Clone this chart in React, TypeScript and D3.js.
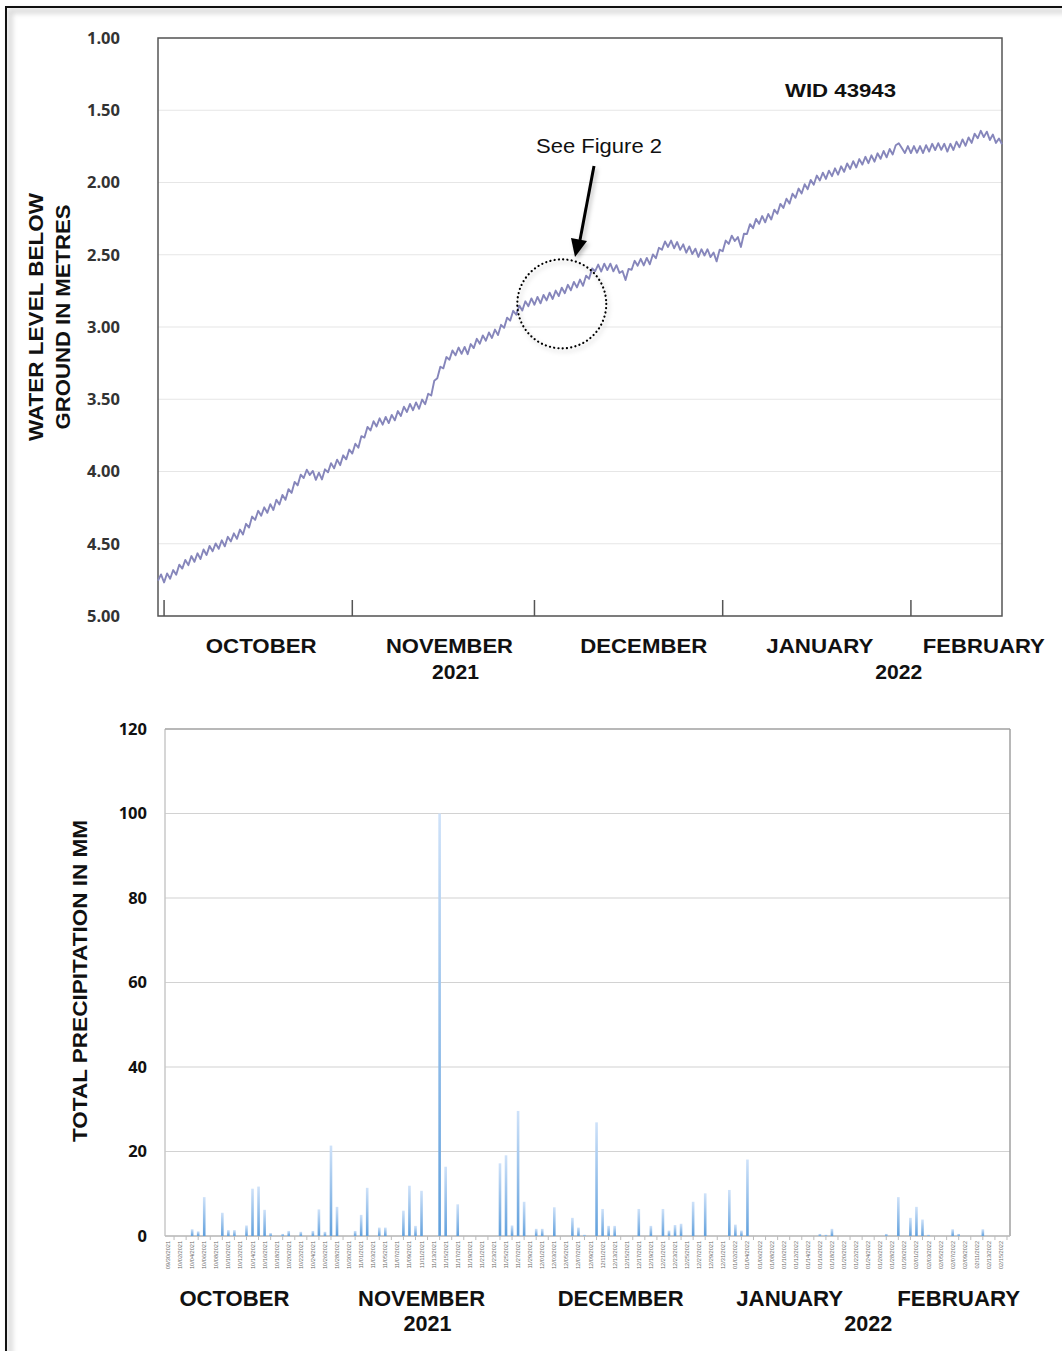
import React from 'react';
import * as d3 from 'd3';

// ---------- DATA ----------
const waterStart = '2021-09-30T00:00:00';
const waterStepHours = 12;
// water level below ground (m), every 12 hours from 30 Sep 2021
const waterLevel = [
  4.755, 4.712, 4.768, 4.705, 4.742, 4.682, 4.715, 4.645, 4.672, 4.612,
  4.648, 4.585, 4.625, 4.566, 4.606, 4.540, 4.578, 4.515, 4.552, 4.498,
  4.535, 4.476, 4.518, 4.452, 4.484, 4.428, 4.466, 4.402, 4.436, 4.362,
  4.388, 4.312, 4.335, 4.272, 4.306, 4.248, 4.286, 4.226, 4.266, 4.196,
  4.228, 4.162, 4.196, 4.122, 4.148, 4.072, 4.096, 4.022, 4.045, 3.988,
  4.024, 3.996, 4.058, 4.008, 4.055, 3.985, 4.006, 3.942, 3.978, 3.918,
  3.956, 3.888, 3.916, 3.848, 3.876, 3.808, 3.836, 3.755, 3.765, 3.692,
  3.716, 3.652, 3.688, 3.632, 3.676, 3.622, 3.665, 3.608, 3.646, 3.582,
  3.616, 3.552, 3.588, 3.532, 3.576, 3.522, 3.566, 3.502, 3.535, 3.462,
  3.474, 3.372, 3.355, 3.275, 3.286, 3.208, 3.226, 3.162, 3.196, 3.142,
  3.186, 3.138, 3.188, 3.118, 3.146, 3.082, 3.116, 3.058, 3.095, 3.038,
  3.076, 3.018, 3.056, 2.985, 3.006, 2.935, 2.956, 2.888, 2.915, 2.852,
  2.886, 2.822, 2.856, 2.802, 2.846, 2.792, 2.836, 2.778, 2.816, 2.762,
  2.806, 2.748, 2.786, 2.728, 2.766, 2.708, 2.746, 2.688, 2.726, 2.672,
  2.715, 2.645, 2.666, 2.595, 2.614, 2.568, 2.616, 2.562, 2.606, 2.562,
  2.615, 2.572, 2.626, 2.612, 2.675, 2.598, 2.604, 2.542, 2.576, 2.528,
  2.574, 2.522, 2.566, 2.498, 2.524, 2.452, 2.465, 2.408, 2.446, 2.402,
  2.455, 2.412, 2.466, 2.428, 2.486, 2.442, 2.495, 2.458, 2.515, 2.462,
  2.505, 2.462, 2.516, 2.485, 2.546, 2.465, 2.476, 2.402, 2.425, 2.368,
  2.405, 2.378, 2.446, 2.355, 2.356, 2.288, 2.316, 2.252, 2.286, 2.232,
  2.276, 2.218, 2.256, 2.188, 2.216, 2.148, 2.176, 2.112, 2.146, 2.078,
  2.106, 2.042, 2.076, 2.012, 2.046, 1.982, 2.016, 1.952, 1.986, 1.932,
  1.975, 1.918, 1.956, 1.902, 1.946, 1.888, 1.926, 1.868, 1.906, 1.852,
  1.896, 1.838, 1.876, 1.822, 1.866, 1.812, 1.856, 1.798, 1.836, 1.782,
  1.826, 1.768, 1.806, 1.742, 1.728, 1.762, 1.796, 1.748, 1.796, 1.748,
  1.794, 1.748, 1.796, 1.742, 1.786, 1.732, 1.776, 1.728, 1.774, 1.732,
  1.786, 1.732, 1.775, 1.718, 1.756, 1.702, 1.746, 1.688, 1.726, 1.662,
  1.694, 1.642, 1.686, 1.648, 1.706, 1.668, 1.726, 1.695, 1.735,
];
const depthTicks = [1.0, 1.5, 2.0, 2.5, 3.0, 3.5, 4.0, 4.5, 5.0];
const monthTickDates = ['2021-10-01', '2021-11-01', '2021-12-01', '2022-01-01', '2022-02-01'];
const monthNames = ['OCTOBER', 'NOVEMBER', 'DECEMBER', 'JANUARY', 'FEBRUARY'];
const topMonthAnchors = ['2021-10-17', '2021-11-17', '2021-12-19', '2022-01-17', '2022-02-13'];
const yearNames = ['2021', '2022'];
const topYearAnchors = ['2021-11-18', '2022-01-30'];
const wellId = 'WID 43943';
const calloutText = 'See Figure 2';
const calloutTime = '2021-12-05T12:00:00';
const calloutDepth = 2.84;

// daily precipitation (mm), 30 Sep 2021 .. 16 Feb 2022
const precipStart = '2021-09-30';
const precip = [
  0, 0, 0, 0, 1.6, 1.1, 9.2, 0, 0, 5.5,
  1.4, 1.4, 0, 2.5, 11.2, 11.7, 6.2, 0.7, 0, 0.5,
  1.2, 0, 1.0, 0, 1.2, 6.3, 1.0, 21.4, 6.9, 0,
  0, 1.2, 5.0, 11.4, 0, 2.0, 2.0, 0, 0, 6.0,
  11.9, 2.4, 10.7, 0, 0, 100, 16.4, 0, 7.5, 0,
  0, 0, 0, 0, 0, 17.2, 19.1, 2.5, 29.6, 8.1,
  0, 1.7, 1.7, 0, 6.8, 0, 0, 4.3, 2.0, 0.3,
  0, 26.9, 6.4, 2.4, 2.4, 0, 0, 0, 6.4, 0,
  2.4, 0, 6.4, 1.3, 2.6, 2.9, 0, 8.1, 0, 10.1,
  0, 0, 0, 10.9, 2.7, 1.3, 18.1, 0, 0, 0,
  0, 0, 0, 0, 0, 0, 0, 0, 0.5, 0.3,
  1.7, 0, 0, 0, 0, 0, 0, 0, 0, 0.5,
  0, 9.2, 0, 4.3, 6.9, 3.9, 0.3, 0, 0, 0,
  1.6, 0.5, 0, 0, 0, 1.6, 0, 0, 0, 0,
];
const precipTicks = [0, 20, 40, 60, 80, 100, 120];
const bottomMonthAnchors = ['2021-10-11', '2021-11-11', '2021-12-14', '2022-01-11', '2022-02-08'];
const bottomYearAnchors = ['2021-11-12', '2022-01-24'];

// ---------- CHART ----------
const W = 1062;
const H = 1351;
const BOLD = 'Liberation Sans, Arial, sans-serif';
const NUM = 'Open Sans, sans-serif';

const parseDay = d3.timeParse('%Y-%m-%d');
const fmtDay = d3.timeFormat('%m/%d/%Y');

export default function App() {
  // top chart
  const tp = { l: 158, r: 1002, t: 38, b: 616 };
  const t0 = new Date(waterStart);
  const waterPts = waterLevel.map((v, i) => ({ date: d3.timeHour.offset(t0, i * waterStepHours), v }));
  const xT = d3.scaleTime()
    .domain([t0, waterPts[waterPts.length - 1].date])
    .range([tp.l, tp.r]);
  const yT = d3.scaleLinear().domain([1, 5]).range([tp.t, tp.b]);
  const line = d3.line<{ date: Date; v: number }>().x(d => xT(d.date)).y(d => yT(d.v));

  // bottom chart
  const bp = { l: 165, r: 1010, t: 729, b: 1236 };
  const pStart = parseDay(precipStart) as Date;
  const days = precip.map((_, i) => d3.timeDay.offset(pStart, i));
  const xB = d3.scaleBand<string>().domain(days.map(d => fmtDay(d))).range([bp.l, bp.r]);
  const yB = d3.scaleLinear().domain([0, 120]).range([bp.b, bp.t]);
  const bandCenter = (d: Date) => (xB(fmtDay(d)) as number) + xB.bandwidth() / 2;
  const barW = 2.6;

  const cx = xT(new Date(calloutTime));
  const cy = yT(calloutDepth);

  const topMonthLen = [111, 127, 127, 107, 122];
  const botMonthLen = [110, 127, 126, 107, 123];

  return (
    <svg width={W} height={H} style={{ position: 'absolute', left: 0, top: 0, background: '#fff' }}>
      <defs>
        <linearGradient id="barGrad" x1="0" y1="0" x2="0" y2="1">
          <stop offset="0" stopColor="#cfe2f9" />
          <stop offset="1" stopColor="#5f9fdc" />
        </linearGradient>
        <filter id="shadow" x="-20%" y="-20%" width="140%" height="140%">
          <feDropShadow dx="2" dy="3" stdDeviation="2" floodColor="#000" floodOpacity="0.25" />
        </filter>
        <filter id="blur1">
          <feGaussianBlur stdDeviation="2.5" />
        </filter>
      </defs>

      {/* outer frame */}
      <rect x={0} y={0} width={W} height={H} fill="#fff" />
      <rect x={10} y={11} width={W + 20} height={H + 20} fill="none" stroke="#d8d8d8" strokeWidth={5} filter="url(#blur1)" />
      <rect x={6} y={7} width={W + 20} height={H + 20} fill="none" stroke="#111" strokeWidth={2} />

      {/* ===== TOP CHART ===== */}
      <g>
        {depthTicks.map(t => (
          <line key={t} x1={tp.l} x2={tp.r} y1={yT(t)} y2={yT(t)} stroke="#e6e6e6" strokeWidth={1.2} />
        ))}
        <rect x={tp.l} y={tp.t} width={tp.r - tp.l} height={tp.b - tp.t} fill="none" stroke="#555" strokeWidth={1.5} />
        {monthTickDates.map(d => {
          const x = xT(parseDay(d) as Date);
          return <line key={d} x1={x} x2={x} y1={tp.b} y2={tp.b - 16} stroke="#555" strokeWidth={1.5} />;
        })}
        {depthTicks.map(t => (
          <text key={t} x={120} y={yT(t)} dy="0.36em" textAnchor="end" fontFamily={NUM} fontWeight={700}
            fontSize={16.5} fill="#333">{t.toFixed(2)}</text>
        ))}
        <path d={line(waterPts) || ''} fill="none" stroke="#8686bb" strokeWidth={1.9} strokeLinejoin="round" />

        <text transform="translate(35,317) rotate(-90)" textAnchor="middle" dominantBaseline="central"
          fontFamily={BOLD} fontWeight={700} fontSize={21} fill="#111" textLength={248} lengthAdjust="spacingAndGlyphs">
          WATER LEVEL BELOW
        </text>
        <text transform="translate(62,317) rotate(-90)" textAnchor="middle" dominantBaseline="central"
          fontFamily={BOLD} fontWeight={700} fontSize={21} fill="#111" textLength={225} lengthAdjust="spacingAndGlyphs">
          GROUND IN METRES
        </text>

        {monthNames.map((m, i) => (
          <text key={m} x={xT(parseDay(topMonthAnchors[i]) as Date)} y={653} textAnchor="middle"
            fontFamily={BOLD} fontWeight={700} fontSize={21} fill="#111"
            textLength={topMonthLen[i]} lengthAdjust="spacingAndGlyphs">{m}</text>
        ))}
        {yearNames.map((yv, i) => (
          <text key={yv} x={xT(parseDay(topYearAnchors[i]) as Date)} y={679} textAnchor="middle"
            fontFamily={BOLD} fontWeight={700} fontSize={21} fill="#111"
            textLength={47} lengthAdjust="spacingAndGlyphs">{yv}</text>
        ))}

        <text x={785} y={97} fontFamily={BOLD} fontWeight={700} fontSize={19} fill="#111"
          textLength={111} lengthAdjust="spacingAndGlyphs">{wellId}</text>
        <text x={536} y={153} fontFamily={BOLD} fontSize={20} fill="#111"
          textLength={126} lengthAdjust="spacingAndGlyphs">{calloutText}</text>

        <g filter="url(#shadow)">
          <line x1={594} y1={166} x2={580} y2={240} stroke="#000" strokeWidth={3} />
          <polygon points={`${575},${257} ${571},${238} ${587},${241}`} fill="#000" />
          <circle cx={cx} cy={cy} r={44.5} fill="none" stroke="#000" strokeWidth={2.2}
            strokeDasharray="0.1 4.2" strokeLinecap="round" />
        </g>
      </g>

      {/* ===== BOTTOM CHART ===== */}
      <g>
        {precipTicks.map(t => (
          <line key={t} x1={bp.l} x2={bp.r} y1={yB(t)} y2={yB(t)} stroke="#d2d2d2" strokeWidth={1.2} />
        ))}
        <line x1={bp.l} x2={bp.l} y1={bp.t} y2={bp.b} stroke="#c8c8c8" strokeWidth={1.5} />
        <line x1={bp.l} x2={bp.r} y1={bp.t} y2={bp.t} stroke="#a8a8a8" strokeWidth={1.5} />
        <line x1={bp.r} x2={bp.r} y1={bp.t} y2={bp.b} stroke="#a0a0a0" strokeWidth={1.5} />
        <line x1={bp.l} x2={bp.r} y1={bp.b} y2={bp.b} stroke="#bdbdbd" strokeWidth={1.5} />

        {precip.map((v, i) => v > 0 ? (
          <rect key={i} x={bandCenter(days[i]) - barW / 2} y={yB(v)} width={barW} height={yB(0) - yB(v)}
            fill="url(#barGrad)" />
        ) : null)}

        {days.map((d, i) => i % 2 === 1 ? (
          <line key={'tk' + i} x1={bandCenter(d)} x2={bandCenter(d)} y1={bp.b} y2={bp.b + 4} stroke="#bbb" strokeWidth={1} />
        ) : null)}
        {days.map((d, i) => i % 2 === 0 ? (
          <text key={'lb' + i} transform={`translate(${bandCenter(d) + 2},${bp.b + 5}) rotate(-90)`}
            textAnchor="end" fontFamily={BOLD} fontSize={5.6} fill="#6a6a6a">{fmtDay(d)}</text>
        ) : null)}

        {precipTicks.map(t => (
          <text key={t} x={147} y={yB(t)} dy="0.36em" textAnchor="end" fontFamily={NUM} fontWeight={700}
            fontSize={16.5} fill="#111">{t}</text>
        ))}

        <text transform="translate(79,981) rotate(-90)" textAnchor="middle" dominantBaseline="central"
          fontFamily={BOLD} fontWeight={700} fontSize={21} fill="#111" textLength={322} lengthAdjust="spacingAndGlyphs">
          TOTAL PRECIPITATION IN MM
        </text>

        {monthNames.map((m, i) => (
          <text key={m} x={bandCenter(parseDay(bottomMonthAnchors[i]) as Date)} y={1306} textAnchor="middle"
            fontFamily={BOLD} fontWeight={700} fontSize={22} fill="#111"
            textLength={botMonthLen[i]} lengthAdjust="spacingAndGlyphs">{m}</text>
        ))}
        {yearNames.map((yv, i) => (
          <text key={yv} x={bandCenter(parseDay(bottomYearAnchors[i]) as Date)} y={1331} textAnchor="middle"
            fontFamily={BOLD} fontWeight={700} fontSize={22} fill="#111"
            textLength={48} lengthAdjust="spacingAndGlyphs">{yv}</text>
        ))}
      </g>
    </svg>
  );
}
